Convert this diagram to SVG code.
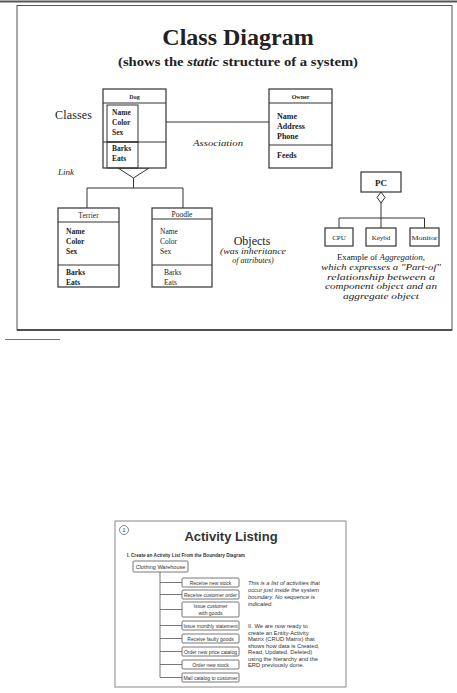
<svg xmlns="http://www.w3.org/2000/svg" width="457" height="693" viewBox="0 0 457 693">
<style>
.ln{stroke:#333;stroke-width:1;fill:none}
.bx{stroke:#333;stroke-width:1.2;fill:#fff}
.sf{font-family:"Liberation Serif","Times New Roman",serif;fill:#222}
.ss{font-family:"Liberation Sans",Arial,sans-serif;fill:#333}
.b{font-weight:bold}
.i{font-style:italic}
.m{text-anchor:middle}
.t7{font-size:7.5px}
.t6{font-size:6px}
.sb{stroke:#555;stroke-width:0.8;fill:#fff}
.sl{stroke:#555;stroke-width:0.8;fill:none}
.st{font-size:5px;text-anchor:middle}
.rt{font-size:5.8px}
</style>
<rect width="457" height="693" fill="#fff"/>
<line x1="0" y1="1.5" x2="457" y2="1.5" stroke="#555" stroke-width="2"/>
<rect x="17" y="5.5" width="435" height="324.5" fill="none" stroke="#555" stroke-width="1"/>
<line x1="17" y1="330" x2="452" y2="330" stroke="#333" stroke-width="1.5"/>
<line x1="5" y1="339.5" x2="60" y2="339.5" stroke="#777" stroke-width="1"/>
<text x="238" y="45" class="sf b m" font-size="24" fill="#333">Class Diagram</text>
<text x="238" y="66" class="sf b m" font-size="13" textLength="240" lengthAdjust="spacingAndGlyphs">(shows the <tspan class="i">static</tspan> structure of a system)</text>
<text x="55" y="119" class="sf" font-size="12" textLength="37">Classes</text>
<text x="58" y="175" class="sf i" font-size="9">Link</text>
<text x="193" y="146" class="sf i" font-size="8" fill="#666" textLength="50" lengthAdjust="spacingAndGlyphs">Association</text>
<g id="connectors">
<line class="ln" x1="166" y1="122" x2="269" y2="122"/>
<polygon points="118,168 149,168 133.5,178" fill="#fff" stroke="#333" stroke-width="1"/>
<polyline class="ln" points="133.5,178 133.5,188"/>
<polyline class="ln" points="87,208 87,188 183,188 183,208"/>
<polygon points="381,192 385,197.5 381,203 377,197.5" fill="#fff" stroke="#333" stroke-width="1"/>
<polyline class="ln" points="381,203 381,228"/>
<polyline class="ln" points="339,228 339,218 424.5,218 424.5,228"/>
</g>
<g id="dog">
<rect class="bx" x="103" y="89" width="63" height="79"/>
<line class="ln" x1="103" y1="103" x2="166" y2="103"/>
<line class="ln" x1="103" y1="142" x2="166" y2="142"/>
<rect class="ln" x="107" y="105" width="31" height="37" stroke-width="0.8"/>
<rect class="ln" x="107" y="142" width="31" height="26" stroke-width="0.8"/>
<text x="134.5" y="99" class="sf b m t6">Dog</text>
<text x="112" y="115" class="sf b t7">Name</text>
<text x="112" y="125" class="sf b t7">Color</text>
<text x="112" y="135" class="sf b t7">Sex</text>
<text x="112" y="151" class="sf b t7">Barks</text>
<text x="112" y="161" class="sf b t7">Eats</text>
</g>
<g id="owner">
<rect class="bx" x="269" y="89" width="63" height="79"/>
<line class="ln" x1="269" y1="103" x2="332" y2="103"/>
<line class="ln" x1="269" y1="145" x2="332" y2="145"/>
<text x="300.5" y="99" class="sf b m t6">Owner</text>
<text x="277" y="119" class="sf b" font-size="8">Name</text>
<text x="277" y="129" class="sf b" font-size="8">Address</text>
<text x="277" y="139" class="sf b" font-size="8">Phone</text>
<text x="277" y="158" class="sf b" font-size="8">Feeds</text>
</g>
<g id="terrier">
<rect class="bx" x="58" y="208" width="61" height="79"/>
<line class="ln" x1="58" y1="222" x2="119" y2="222"/>
<line class="ln" x1="58" y1="265" x2="119" y2="265"/>
<text x="88.5" y="218" class="sf m t7">Terrier</text>
<text x="66" y="234" class="sf b t7">Name</text>
<text x="66" y="244" class="sf b t7">Color</text>
<text x="66" y="254" class="sf b t7">Sex</text>
<text x="66" y="275" class="sf b t7">Barks</text>
<text x="66" y="285" class="sf b t7">Eats</text>
</g>
<g id="poodle">
<rect class="bx" x="152" y="208" width="60" height="79"/>
<line class="ln" x1="152" y1="219" x2="212" y2="219"/>
<line class="ln" x1="152" y1="265" x2="212" y2="265"/>
<text x="182" y="217" class="sf m t7">Poodle</text>
<text x="160" y="234" class="sf t7">Name</text>
<text x="160" y="244" class="sf t7">Color</text>
<text x="160" y="254" class="sf t7">Sex</text>
<text x="164" y="275" class="sf t7">Barks</text>
<text x="164" y="285" class="sf t7">Eats</text>
</g>
<g id="objects-label">
<text x="252" y="245" class="sf m" font-size="12">Objects</text>
<text x="253" y="254" class="sf i m" font-size="8" fill="#555" textLength="66" lengthAdjust="spacingAndGlyphs">(was inheritance</text>
<text x="253" y="263" class="sf i m" font-size="8" fill="#555">of attributes)</text>
</g>
<g id="pc">
<rect class="bx" x="361" y="172" width="40" height="20"/>
<text x="381" y="186" class="sf b m" font-size="9">PC</text>
</g>
<g id="cpu">
<rect class="bx" x="325" y="228" width="28" height="18"/>
<text x="339" y="240" class="sf m" font-size="7">CPU</text>
</g>
<g id="keybd">
<rect class="bx" x="366" y="228" width="30" height="18"/>
<text x="381" y="240" class="sf m" font-size="7">Keybd</text>
</g>
<g id="monitor">
<rect class="bx" x="410" y="228" width="29" height="18"/>
<text x="424.5" y="240" class="sf m" font-size="7" textLength="26" lengthAdjust="spacingAndGlyphs">Monitor</text>
</g>
<g id="aggregation-caption" class="sf m" font-size="8.5">
<text x="381" y="260" textLength="88" lengthAdjust="spacingAndGlyphs">Example of <tspan class="i">Aggregation,</tspan></text>
<text x="381" y="270" class="i" textLength="120" lengthAdjust="spacingAndGlyphs">which expresses a "Part-of"</text>
<text x="381" y="279.5" class="i" textLength="108" lengthAdjust="spacingAndGlyphs">relationship between a</text>
<text x="381" y="289" class="i" textLength="112" lengthAdjust="spacingAndGlyphs">component object and an</text>
<text x="381" y="298.5" class="i" textLength="76" lengthAdjust="spacingAndGlyphs">aggregate object</text>
</g>
<g id="activity-slide">
<rect x="115" y="521" width="231" height="166" fill="none" stroke="#888" stroke-width="1"/>
<circle cx="124" cy="530" r="4.5" fill="none" stroke="#555" stroke-width="0.7"/>
<text x="124" y="532" class="ss m" font-size="5.5">1</text>
<text x="231" y="541" class="ss b m" font-size="13" fill="#222">Activity Listing</text>
<text x="127" y="557" class="ss b" font-size="5.5" textLength="118" lengthAdjust="spacingAndGlyphs">I. Create an Activity List From the Boundary Diagram</text>
</g>
<g id="activity-connectors">
<polyline class="sl" points="160,572 160,677.5"/>
<line class="sl" x1="160" y1="582.5" x2="182" y2="582.5"/>
<line class="sl" x1="160" y1="594.5" x2="182" y2="594.5"/>
<line class="sl" x1="160" y1="609.5" x2="182" y2="609.5"/>
<line class="sl" x1="160" y1="625.5" x2="182" y2="625.5"/>
<line class="sl" x1="160" y1="638.5" x2="182" y2="638.5"/>
<line class="sl" x1="160" y1="651.5" x2="182" y2="651.5"/>
<line class="sl" x1="160" y1="664.5" x2="182" y2="664.5"/>
<line class="sl" x1="160" y1="677.5" x2="182" y2="677.5"/>
</g>
<g id="clothing-warehouse">
<rect class="sb" x="133" y="561" width="55" height="11" rx="1"/>
<text x="160.5" y="568.5" class="ss" font-size="5.5" text-anchor="middle">Clothing Warehouse</text>
</g>
<g id="a1"><rect class="sb" x="182" y="578" width="57" height="9" rx="1"/><text x="210.5" y="584.5" class="ss st">Receive new stock</text></g>
<g id="a2"><rect class="sb" x="182" y="590" width="57" height="9" rx="1"/><text x="210.5" y="596.5" class="ss st">Receive customer order</text></g>
<g id="a3"><rect class="sb" x="182" y="602" width="57" height="15" rx="1"/><text x="210.5" y="608" class="ss st">Issue customer</text><text x="210.5" y="614.5" class="ss st">with goods</text></g>
<g id="a4"><rect class="sb" x="182" y="621" width="57" height="9" rx="1"/><text x="210.5" y="627.5" class="ss st">Issue monthly statement</text></g>
<g id="a5"><rect class="sb" x="182" y="634" width="57" height="9" rx="1"/><text x="210.5" y="640.5" class="ss st">Receive faulty goods</text></g>
<g id="a6"><rect class="sb" x="182" y="647" width="57" height="9" rx="1"/><text x="210.5" y="653.5" class="ss st">Order new price catalog</text></g>
<g id="a7"><rect class="sb" x="182" y="660" width="57" height="9" rx="1"/><text x="210.5" y="666.5" class="ss st">Order new stock</text></g>
<g id="a8"><rect class="sb" x="182" y="673" width="57" height="9" rx="1"/><text x="210.5" y="679.5" class="ss st">Mail catalog to customer</text></g>
<g id="slide-notes" class="ss rt">
<text x="248" y="585" class="i">This is a list of activities that</text>
<text x="248" y="592" class="i">occur just inside the system</text>
<text x="248" y="599" class="i">boundary. No sequence is</text>
<text x="248" y="606" class="i">indicated.</text>
<text x="248" y="628">II. We are now ready to</text>
<text x="248" y="634.5">create an Entity-Activity</text>
<text x="248" y="641">Matrix (CRUD Matrix) that</text>
<text x="248" y="647.5">shows how data is Created,</text>
<text x="248" y="654">Read, Updated, Deleted)</text>
<text x="248" y="660.5">using the hierarchy and the</text>
<text x="248" y="667">ERD previously done.</text>
</g>
</svg>
